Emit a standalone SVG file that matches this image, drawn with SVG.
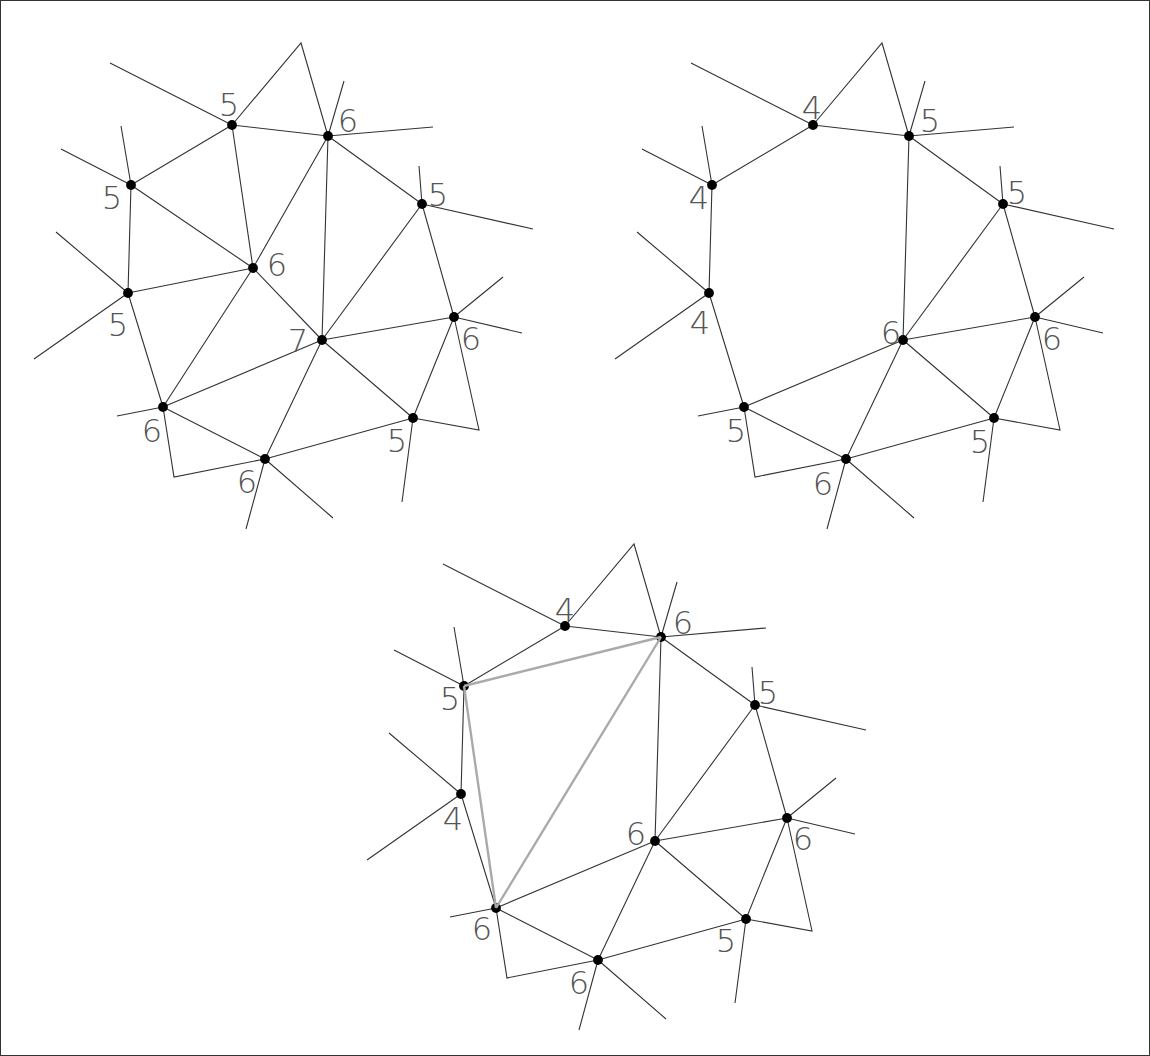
<svg xmlns="http://www.w3.org/2000/svg" width="1150" height="1056" viewBox="0 0 1150 1056">
<style>
.e{stroke:#333;stroke-width:1.1;fill:none}
.g{stroke:#aaa;stroke-width:2.4;fill:none}
.n{fill:#000}
.t{font-family:'DejaVu Sans','Liberation Sans',sans-serif;font-weight:200;font-size:32px;fill:#555;text-anchor:middle}
</style>
<rect x="0.5" y="0.5" width="1149" height="1055" fill="#fff" stroke="#333" stroke-width="1"/>

<!-- Diagram 1 -->
<g id="mesh1">
<g id="mesh1-connectors">
<path class="e" d="M232,125 L301,43 L328,136 M232,125 L110,63 M232,125 L328,136 M232,125 L131,185 M232,125 L253,268
M131,185 L61,149 M131,185 L121,126 M131,185 L128,293 M131,185 L253,268
M128,293 L56,232 M128,293 L34,359 M128,293 L253,268 M128,293 L163,407
M253,268 L328,136 M253,268 L163,407 M253,268 L322,340
M163,407 L117,416 M163,407 L174,477 L265,459 M163,407 L265,459 M163,407 L322,340
M265,459 L246,529 M265,459 L333,518 M265,459 L322,340 M265,459 L413,418
M322,340 L328,136 M322,340 L422,204 M322,340 L454,317 M322,340 L413,418
M328,136 L344,81 M328,136 L433,127 M328,136 L422,204
M422,204 L419,166 M422,204 L533,229 M422,204 L454,317
M454,317 L522,333 M454,317 L503,277 M454,317 L479,430 L413,418 M454,317 L413,418
M413,418 L402,502"/>
</g>
<g id="m1-A"><circle class="n" cx="232" cy="125" r="4.9"/><text class="t" x="229" y="116">5</text></g>
<g id="m1-B"><circle class="n" cx="328" cy="136" r="4.9"/><text class="t" x="348" y="132">6</text></g>
<g id="m1-C"><circle class="n" cx="131" cy="185" r="4.9"/><text class="t" x="112" y="209">5</text></g>
<g id="m1-D"><circle class="n" cx="128" cy="293" r="4.9"/><text class="t" x="118" y="336">5</text></g>
<g id="m1-E"><circle class="n" cx="253" cy="268" r="4.9"/><text class="t" x="277" y="276">6</text></g>
<g id="m1-F"><circle class="n" cx="163" cy="407" r="4.9"/><text class="t" x="152" y="442">6</text></g>
<g id="m1-G"><circle class="n" cx="322" cy="340" r="4.9"/><text class="t" x="298" y="352">7</text></g>
<g id="m1-H"><circle class="n" cx="265" cy="459" r="4.9"/><text class="t" x="247" y="493">6</text></g>
<g id="m1-I"><circle class="n" cx="454" cy="317" r="4.9"/><text class="t" x="471" y="350">6</text></g>
<g id="m1-J"><circle class="n" cx="422" cy="204" r="4.9"/><text class="t" x="438" y="206">5</text></g>
<g id="m1-K"><circle class="n" cx="413" cy="418" r="4.9"/><text class="t" x="397" y="452">5</text></g>
</g>

<!-- Diagram 2 -->
<g id="mesh2" transform="translate(581,0)">
<g id="mesh2-connectors">
<path class="e" d="M232,125 L301,43 L328,136 M232,125 L110,63 M232,125 L328,136 M232,125 L131,185
M131,185 L61,149 M131,185 L121,126 M131,185 L128,293
M128,293 L56,232 M128,293 L34,359 M128,293 L163,407
M163,407 L117,416 M163,407 L174,477 L265,459 M163,407 L265,459 M163,407 L322,340
M265,459 L246,529 M265,459 L333,518 M265,459 L322,340 M265,459 L413,418
M322,340 L328,136 M322,340 L422,204 M322,340 L454,317 M322,340 L413,418
M328,136 L344,81 M328,136 L433,127 M328,136 L422,204
M422,204 L419,166 M422,204 L533,229 M422,204 L454,317
M454,317 L522,333 M454,317 L503,277 M454,317 L479,430 L413,418 M454,317 L413,418
M413,418 L402,502"/>
</g>
<g id="m2-A"><circle class="n" cx="232" cy="125" r="4.9"/><text class="t" x="231" y="119">4</text></g>
<g id="m2-B"><circle class="n" cx="328" cy="136" r="4.9"/><text class="t" x="349" y="132">5</text></g>
<g id="m2-C"><circle class="n" cx="131" cy="185" r="4.9"/><text class="t" x="118" y="209">4</text></g>
<g id="m2-D"><circle class="n" cx="128" cy="293" r="4.9"/><text class="t" x="119" y="334">4</text></g>
<g id="m2-F"><circle class="n" cx="163" cy="407" r="4.9"/><text class="t" x="155" y="442">5</text></g>
<g id="m2-G"><circle class="n" cx="322" cy="340" r="4.9"/><text class="t" x="310" y="344">6</text></g>
<g id="m2-H"><circle class="n" cx="265" cy="459" r="4.9"/><text class="t" x="242" y="495">6</text></g>
<g id="m2-I"><circle class="n" cx="454" cy="317" r="4.9"/><text class="t" x="471" y="350">6</text></g>
<g id="m2-J"><circle class="n" cx="422" cy="204" r="4.9"/><text class="t" x="436" y="204">5</text></g>
<g id="m2-K"><circle class="n" cx="413" cy="418" r="4.9"/><text class="t" x="399" y="453">5</text></g>
</g>

<!-- Diagram 3 -->
<g id="mesh3" transform="translate(333,501)">
<g id="mesh3-connectors">
<path class="e" d="M232,125 L301,43 L328,136 M232,125 L110,63 M232,125 L328,136 M232,125 L131,185
M131,185 L61,149 M131,185 L121,126 M131,185 L128,293
M128,293 L56,232 M128,293 L34,359 M128,293 L163,407
M163,407 L117,416 M163,407 L174,477 L265,459 M163,407 L265,459 M163,407 L322,340
M265,459 L246,529 M265,459 L333,518 M265,459 L322,340 M265,459 L413,418
M322,340 L328,136 M322,340 L422,204 M322,340 L454,317 M322,340 L413,418
M328,136 L344,81 M328,136 L433,127 M328,136 L422,204
M422,204 L419,166 M422,204 L533,229 M422,204 L454,317
M454,317 L522,333 M454,317 L503,277 M454,317 L479,430 L413,418 M454,317 L413,418
M413,418 L402,502"/>
</g>
<g id="m3-A"><circle class="n" cx="232" cy="125" r="4.9"/><text class="t" x="232" y="120">4</text></g>
<g id="m3-B"><circle class="n" cx="328" cy="136" r="4.9"/><text class="t" x="350" y="133">6</text></g>
<g id="m3-C"><circle class="n" cx="131" cy="185" r="4.9"/><text class="t" x="117" y="209">5</text></g>
<g id="m3-D"><circle class="n" cx="128" cy="293" r="4.9"/><text class="t" x="120" y="329">4</text></g>
<g id="m3-F"><circle class="n" cx="163" cy="407" r="4.9"/><text class="t" x="149" y="439">6</text></g>
<g id="m3-G"><circle class="n" cx="322" cy="340" r="4.9"/><text class="t" x="303" y="344">6</text></g>
<g id="m3-H"><circle class="n" cx="265" cy="459" r="4.9"/><text class="t" x="246" y="493">6</text></g>
<g id="m3-I"><circle class="n" cx="454" cy="317" r="4.9"/><text class="t" x="470" y="349">6</text></g>
<g id="m3-J"><circle class="n" cx="422" cy="204" r="4.9"/><text class="t" x="435" y="203">5</text></g>
<g id="m3-K"><circle class="n" cx="413" cy="418" r="4.9"/><text class="t" x="393" y="451">5</text></g>
<g id="mesh3-new-connectors">
<path class="g" d="M131,185 L328,136 M131,185 L163,407 M163,407 L328,136"/>
</g>
</g>
</svg>
